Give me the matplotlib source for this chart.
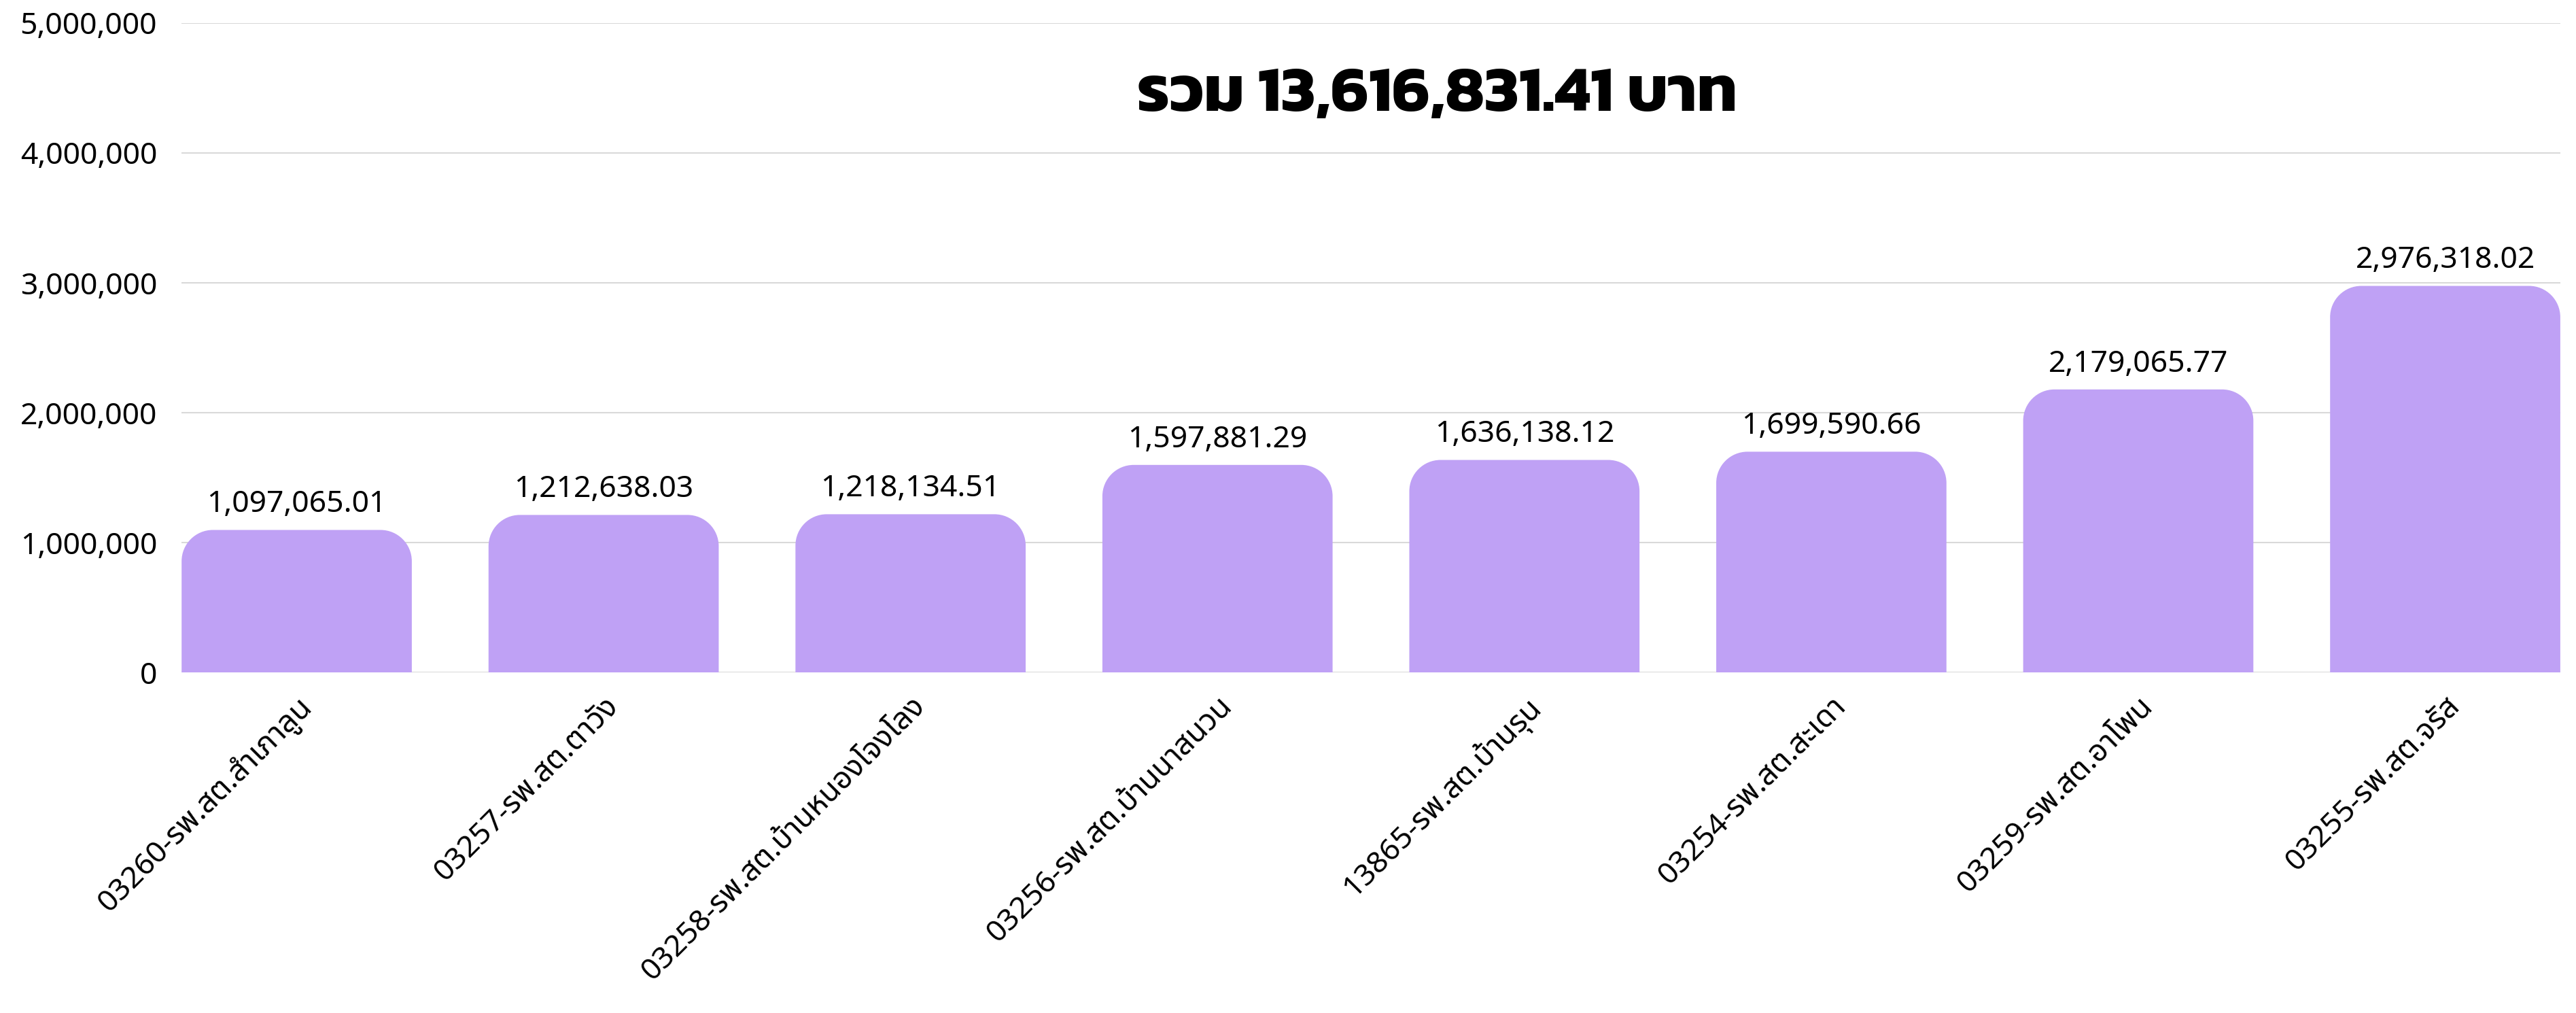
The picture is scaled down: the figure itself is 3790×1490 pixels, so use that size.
import matplotlib
matplotlib.use("Agg")
import matplotlib.pyplot as plt
from matplotlib.path import Path
from matplotlib.patches import PathPatch
from matplotlib.ticker import FuncFormatter

# data
categories = [
    "03260-รพ.สต.สำเภาลูน",
    "03257-รพ.สต.ตาวัง",
    "03258-รพ.สต.บ้านหนองโจงโลง",
    "03256-รพ.สต.บ้านนาสนวน",
    "13865-รพ.สต.บ้านรุน",
    "03254-รพ.สต.สะเดา",
    "03259-รพ.สต.อาโพน",
    "03255-รพ.สต.จรัส",
]
amounts = [1097065.01, 1212638.03, 1218134.51, 1597881.29,
           1636138.12, 1699590.66, 2179065.77, 2976318.02]
y_ticks = [0, 1000000, 2000000, 3000000, 4000000, 5000000]
title_text = "รวม {:,.2f} บาท".format(sum(amounts))

BAR_COLOR = "#BFA1F5"
GRID_COLOR = "#D9D9D9"

plt.rcParams["font.family"] = ["Noto Sans Thai", "Noto Sans", "DejaVu Sans"]

fig = plt.figure(figsize=(37.9, 14.9), dpi=100)
ax = fig.add_axes([0.0705, 0.3362, 0.9234, 0.641])

x = list(range(len(categories)))
bars = ax.bar(x, amounts, width=0.75, color=BAR_COLOR, zorder=2)
ax.set_xlim(-0.375, len(categories) - 0.625)
ax.set_ylim(0, 5000000)

# rounded top corners, radius in pixels
r_px = 46
ax_w = fig.get_figwidth() * fig.dpi * ax.get_position().width
ax_h = fig.get_figheight() * fig.dpi * ax.get_position().height
rx = r_px * (ax.get_xlim()[1] - ax.get_xlim()[0]) / ax_w
ry = r_px * (ax.get_ylim()[1] - ax.get_ylim()[0]) / ax_h
k = 0.5523
for b in bars:
    x0, w, h = b.get_x(), b.get_width(), b.get_height()
    verts = [
        (x0, 0), (x0, h - ry),
        (x0, h - ry + k * ry), (x0 + rx - k * rx, h), (x0 + rx, h),
        (x0 + w - rx, h),
        (x0 + w - rx + k * rx, h), (x0 + w, h - ry + k * ry), (x0 + w, h - ry),
        (x0 + w, 0), (x0, 0),
    ]
    codes = [Path.MOVETO, Path.LINETO,
             Path.CURVE4, Path.CURVE4, Path.CURVE4,
             Path.LINETO,
             Path.CURVE4, Path.CURVE4, Path.CURVE4,
             Path.LINETO, Path.CLOSEPOLY]
    ax.add_patch(PathPatch(Path(verts, codes), facecolor=BAR_COLOR,
                           edgecolor="none", zorder=2))
    b.set_visible(False)
    ax.annotate("{:,.2f}".format(h), (x0 + w / 2, h), xytext=(0, 11),
                textcoords="offset points", ha="center", va="bottom",
                fontsize=32)

ax.set_yticks(y_ticks)
ax.yaxis.set_major_formatter(FuncFormatter(lambda v, p: "{:,.0f}".format(v)))
ax.set_xticks(x)
ax.set_xticklabels(categories, rotation=45, ha="right", rotation_mode="anchor")
ax.tick_params(axis="y", length=0, pad=26, labelsize=32)
ax.tick_params(axis="x", length=0, pad=20, labelsize=32)
ax.grid(axis="y", color=GRID_COLOR, linewidth=1.5, zorder=0)
ax.set_axisbelow(True)
for s in ax.spines.values():
    s.set_visible(False)

fig.text(0.558, 0.905, title_text, ha="center", va="center",
         fontsize=68, fontweight="bold", family=["Kanit", "DejaVu Sans"])

fig.savefig("out.png", dpi=100)
